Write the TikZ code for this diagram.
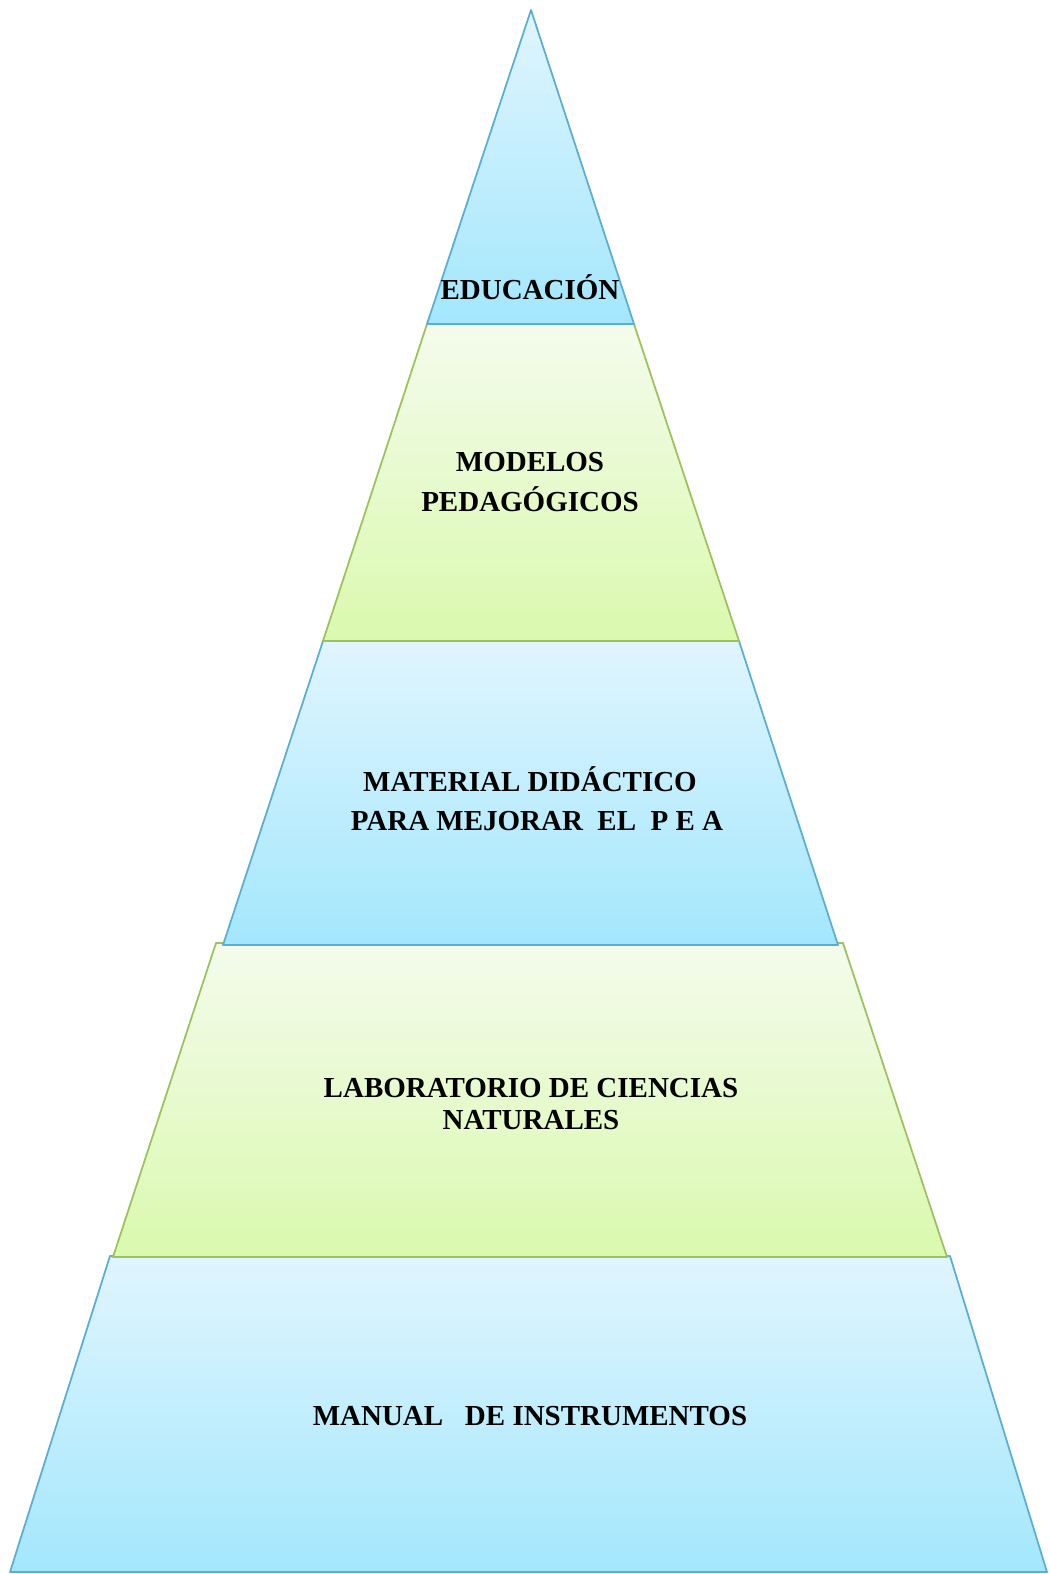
\documentclass[tikz,border=0pt]{standalone}
\usepackage{fontspec}
\setmainfont{Liberation Serif}
\usepackage{tikz}
\usetikzlibrary{positioning}
\definecolor{bluetop}{HTML}{E0F5FE}
\definecolor{bluebot}{HTML}{A3E7FD}
\definecolor{blueline}{HTML}{5AAED6}
\definecolor{greentop}{HTML}{F4FBEC}
\definecolor{greenbot}{HTML}{DAF9AE}
\definecolor{greenline}{HTML}{9CC25C}

\begin{document}
\begin{tikzpicture}[x=0.02cm,y=-0.02cm,% pixel grid, y downwards
					bandblue/.style={draw=blueline,line width=1pt,line join=round,top color=bluetop,bottom color=bluebot},
					bandgreen/.style={draw=greenline,line width=1pt,line join=round,top color=greentop,bottom color=greenbot},
					every node/.style={
						align=center,  		% use this so that the "\\" for line break works
						font=\fontsize{16.5}{22.7}\selectfont\bfseries,
						inner sep=0pt
						}
					]
\useasboundingbox (0,0) rectangle (1049,1574);
% bands of the pyramid, bottom to top
\path[bandblue] (110,1256) -- (950,1256) -- (1047,1572) -- (10,1572) -- cycle;
\path[bandgreen] (216,943) -- (843,943) -- (947,1257) -- (113,1257) -- cycle;
\path[bandblue] (323,641) -- (739,641) -- (838,945) -- (223,945) -- cycle;
\path[bandgreen] (427,324) -- (634,324) -- (739,641) -- (323,641) -- cycle;
\path[bandblue] (531,10) -- (634,324) -- (427,324) -- cycle;
% labels
\node (edu) at (530,287) {EDUCACIÓN};
\node (mod) at (530,482) {MODELOS\\PEDAGÓGICOS};
\node (mat) at (530,779) {MATERIAL DIDÁCTICO};
\node (pea) at (537,821) {PARA MEJORAR~ EL~ P E A};
\node (lab) at (531,1104) {LABORATORIO DE CIENCIAS\\[-5pt] NATURALES};
\node (man) at (530,1416) {MANUAL~~ DE INSTRUMENTOS};
\end{tikzpicture}
\end{document}
